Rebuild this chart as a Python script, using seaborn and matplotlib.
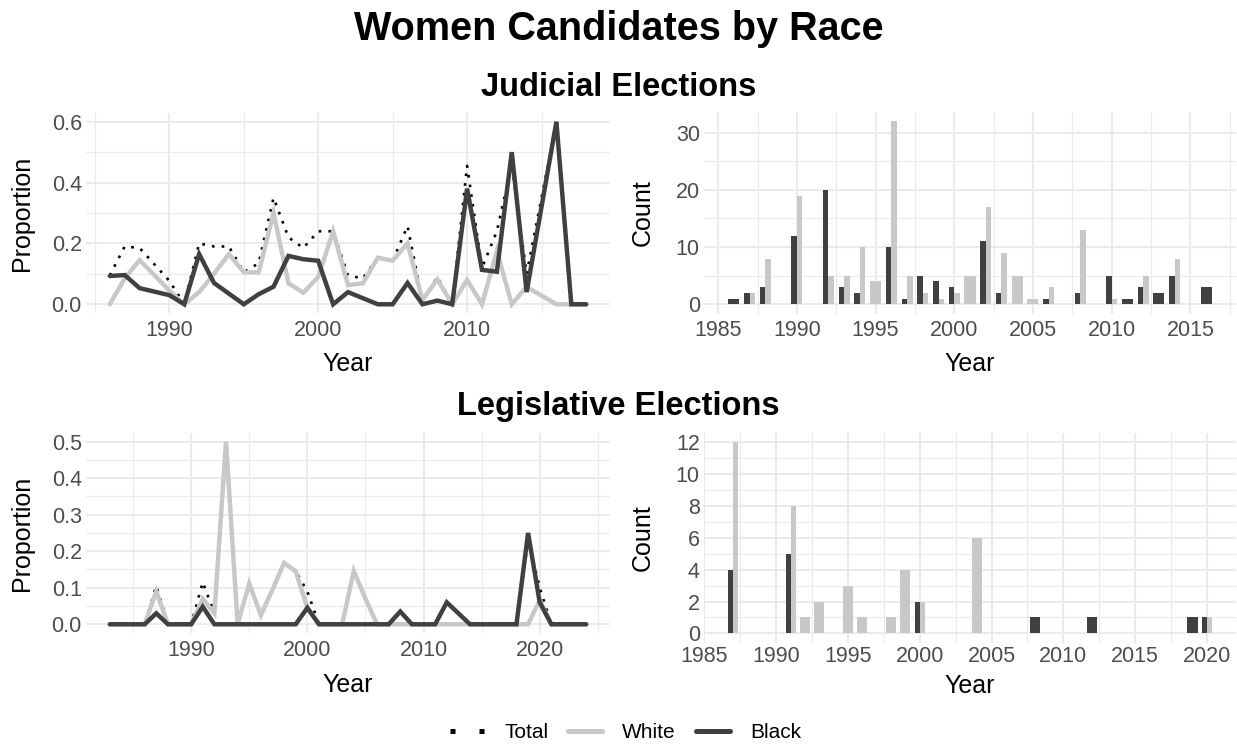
import numpy as np
import pandas as pd
import matplotlib
matplotlib.use("Agg")
import matplotlib.pyplot as plt
from matplotlib.lines import Line2D
from matplotlib.ticker import FormatStrFormatter
import seaborn as sns

# ---------------- Judicial elections: share of candidates who are women ----------------
jud_years = [1986, 1987, 1988, 1990, 1991, 1992, 1993, 1994, 1995, 1996, 1997, 1998, 1999,
             2000, 2001, 2002, 2003, 2004, 2005, 2006, 2007, 2008, 2009, 2010, 2011, 2012,
             2013, 2014, 2016, 2017, 2018]
jud_total = [0.095, 0.19, 0.185, 0.077, 0.0, 0.20, 0.19, 0.19, 0.105, 0.135, 0.35, 0.22, 0.185,
             0.24, 0.24, 0.095, 0.085, 0.153, 0.143, 0.257, 0.01, 0.09, 0.0, 0.455, 0.12, 0.24,
             0.46, 0.10, 0.60, 0.0, 0.0]
jud_white = [0.0, 0.085, 0.145, 0.045, 0.0, 0.04, 0.10, 0.165, 0.105, 0.105, 0.30, 0.069, 0.038,
             0.09, 0.24, 0.063, 0.069, 0.153, 0.143, 0.20, 0.014, 0.082, 0.0, 0.08, 0.0, 0.175,
             0.0, 0.057, 0.0, 0.0, 0.0]
jud_black = [0.093, 0.096, 0.053, 0.03, 0.0, 0.165, 0.07, 0.035, 0.0, 0.033, 0.058, 0.159, 0.148,
             0.143, 0.0, 0.04, 0.02, 0.0, 0.0, 0.07, 0.0, 0.012, 0.0, 0.38, 0.113, 0.107,
             0.50, 0.04, 0.60, 0.0, 0.0]

# Judicial counts of women candidates
jud_black_years = [1986, 1987, 1988, 1990, 1992, 1993, 1994, 1996, 1997, 1998, 1999, 2000,
                   2002, 2003, 2006, 2008, 2010, 2011, 2012, 2013, 2014, 2016]
jud_black_n = [1, 2, 3, 12, 20, 3, 2, 10, 1, 5, 4, 3, 11, 2, 1, 2, 5, 1, 3, 2, 5, 3]
jud_white_years = [1987, 1988, 1990, 1992, 1993, 1994, 1995, 1996, 1997, 1998, 1999, 2000,
                   2001, 2002, 2003, 2004, 2005, 2006, 2008, 2010, 2012, 2014]
jud_white_n = [2, 8, 19, 5, 5, 10, 4, 32, 5, 2, 1, 2, 5, 17, 9, 5, 1, 3, 13, 1, 5, 8]

# ---------------- Legislative elections ----------------
leg_years = list(range(1983, 2025))
leg_total = [0, 0, 0, 0, 0.105, 0, 0, 0, 0.115, 0.03, 0.50, 0, 0.112, 0.025, 0.095, 0.168,
             0.145, 0.09, 0, 0, 0, 0.146, 0.07, 0, 0, 0.035, 0, 0, 0, 0.06, 0.03, 0, 0, 0,
             0, 0, 0.23, 0.10, 0, 0, 0, 0]
leg_white = [0, 0, 0, 0, 0.09, 0, 0, 0, 0.07, 0.03, 0.50, 0, 0.112, 0.025, 0.095, 0.168,
             0.145, 0.045, 0, 0, 0, 0.146, 0.07, 0, 0, 0, 0, 0, 0, 0, 0, 0, 0, 0,
             0, 0, 0, 0.066, 0, 0, 0, 0]
leg_black = [0, 0, 0, 0, 0.03, 0, 0, 0, 0.048, 0, 0, 0, 0, 0, 0, 0,
             0, 0.045, 0, 0, 0, 0, 0, 0, 0, 0.035, 0, 0, 0, 0.06, 0.03, 0, 0, 0,
             0, 0, 0.25, 0.06, 0, 0, 0, 0]

leg_black_years = [1987, 1991, 2000, 2008, 2012, 2019, 2020]
leg_black_n = [4, 5, 2, 1, 1, 1, 1]
leg_white_years = [1987, 1991, 1992, 1993, 1995, 1996, 1998, 1999, 2000, 2004, 2020]
leg_white_n = [12, 8, 1, 2, 3, 1, 1, 4, 2, 6, 1]

group_names = ["Total", "White", "Black"]

# ---------------- styling ----------------
sns.set_theme(style="whitegrid")
plt.rcParams["font.family"] = ["Liberation Sans", "DejaVu Sans"]
plt.rcParams["text.color"] = "black"
plt.rcParams["axes.labelcolor"] = "black"

DARK = "#404040"
LIGHT = "#C8C8C8"
GRID = "#EBEBEB"
TICK = "#4D4D4D"
TICK_FS = 15.5
TITLE_FS = 18

W, H = 1237, 744
fig = plt.figure(figsize=(W / 100, H / 100), dpi=100)
fig.patch.set_facecolor("white")


def box(x0, y0, x1, y1):
    return [x0 / W, 1 - y1 / H, (x1 - x0) / W, (y1 - y0) / H]


ax_jl = fig.add_axes(box(86, 112.6, 610, 313.4))
ax_jc = fig.add_axes(box(704, 112.0, 1236, 313.5))
ax_ll = fig.add_axes(box(86, 432.5, 610, 633.4))
ax_lc = fig.add_axes(box(704, 432.8, 1236, 642.9))


def style(ax, xlim, ylim, xmajor, xminor, ymajor, yminor, ylabel, yfmt, pad, ylab_x, xlab_y):
    ax.set_xlim(xlim)
    ax.set_ylim(ylim)
    ax.set_xticks(xmajor)
    ax.set_xticks(xminor, minor=True)
    ax.set_yticks(ymajor)
    ax.set_yticks(yminor, minor=True)
    ax.yaxis.set_major_formatter(FormatStrFormatter(yfmt))
    ax.grid(which="major", color=GRID, lw=1.5)
    ax.grid(which="minor", color=GRID, lw=0.8)
    ax.set_axisbelow(True)
    ax.set_facecolor("white")
    for s in ax.spines.values():
        s.set_visible(False)
    ax.tick_params(which="both", length=0, labelsize=TICK_FS, labelcolor=TICK)
    ax.tick_params(axis="x", pad=pad)
    ax.tick_params(axis="y", pad=3)
    ax.set_xlabel("Year", fontsize=TITLE_FS, color="black", va="baseline")
    ax.set_ylabel(ylabel, fontsize=TITLE_FS, color="black", va="center")
    x0, y0, w, h = ax.get_position().bounds
    ax.xaxis.set_label_coords(0.5, ((1 - xlab_y / H) - y0) / h)
    ax.yaxis.set_label_coords((ylab_x / W - x0) / w, 0.5)


def draw_lines(ax, years, total, white, black):
    df = pd.DataFrame({"Year": years, "Total": total, "White": white, "Black": black})
    long = df.melt(id_vars="Year", var_name="Group", value_name="Proportion")
    sns.lineplot(data=long[long.Group == "Total"], x="Year", y="Proportion", ax=ax,
                 color="black", lw=1.9, linestyle=(0, (1, 2.7)), dash_capstyle="butt",
                 legend=False)
    sns.lineplot(data=long[long.Group == "White"], x="Year", y="Proportion", ax=ax,
                 color=LIGHT, lw=3.2, legend=False, solid_joinstyle="miter")
    sns.lineplot(data=long[long.Group == "Black"], x="Year", y="Proportion", ax=ax,
                 color=DARK, lw=3.2, legend=False, solid_joinstyle="miter")


def draw_bars(ax, b_years, b_n, w_years, w_n, width=0.7):
    both = set(b_years) & set(w_years)
    bx = [y - width / 4 if y in both else y for y in b_years]
    bw = [width / 2 if y in both else width for y in b_years]
    wx = [y + width / 4 if y in both else y for y in w_years]
    ww = [width / 2 if y in both else width for y in w_years]
    ax.bar(bx, b_n, width=bw, color=DARK, linewidth=0)
    ax.bar(wx, w_n, width=ww, color=LIGHT, linewidth=0)


# Judicial proportion
draw_lines(ax_jl, jud_years, jud_total, jud_white, jud_black)
style(ax_jl, (1984.4, 2019.6), (-0.03, 0.63), [1990, 2000, 2010], [1985, 1995, 2005, 2015],
      [0, 0.2, 0.4, 0.6], [0.1, 0.3, 0.5], "Proportion", "%.1f", 5, 22, 371)

# Judicial counts
draw_bars(ax_jc, jud_black_years, jud_black_n, jud_white_years, jud_white_n)
style(ax_jc, (1984.1, 2017.9), (-1.6, 33.6), list(range(1985, 2016, 5)),
      list(np.arange(1987.5, 2018, 5)), [0, 10, 20, 30], [5, 15, 25], "Count", "%d", 5, 643, 371)

# Legislative proportion
draw_lines(ax_ll, leg_years, leg_total, leg_white, leg_black)
style(ax_ll, (1980.95, 2026.05), (-0.025, 0.525), [1990, 2000, 2010, 2020],
      [1985, 1995, 2005, 2015, 2025], [0, 0.1, 0.2, 0.3, 0.4, 0.5],
      [0.05, 0.15, 0.25, 0.35, 0.45], "Proportion", "%.1f", 5, 22, 692)

# Legislative counts
draw_bars(ax_lc, leg_black_years, leg_black_n, leg_white_years, leg_white_n)
style(ax_lc, (1984.97, 2022.03), (-0.6, 12.6), list(range(1985, 2021, 5)),
      list(np.arange(1987.5, 2020, 5)), list(range(0, 13, 2)), list(range(1, 12, 2)),
      "Count", "%d", 2, 643, 693)

# Titles
fig.text(0.5, 1 - 29 / H, "Women Candidates by Race", ha="center", va="center",
         fontsize=28.5, fontweight="bold", color="black")
fig.text(0.5, 1 - 87 / H, "Judicial Elections", ha="center", va="center",
         fontsize=23.5, fontweight="bold", color="black")
fig.text(0.5, 1 - 407 / H, "Legislative Elections", ha="center", va="center",
         fontsize=23.5, fontweight="bold", color="black")

# Shared legend
handles = [
    Line2D([], [], color="black", lw=3.6, linestyle=(0, (1, 4.8)), dash_capstyle="butt"),
    Line2D([], [], color=LIGHT, lw=3.6),
    Line2D([], [], color=DARK, lw=3.6),
]
fig.legend(handles, group_names, loc="center", bbox_to_anchor=(625.5 / W, 1 - 733 / H),
           ncol=3, frameon=False, fontsize=15, handlelength=1.65, handletextpad=0.95,
           columnspacing=0.95)

fig.savefig("out.png", dpi=100, facecolor="white")
